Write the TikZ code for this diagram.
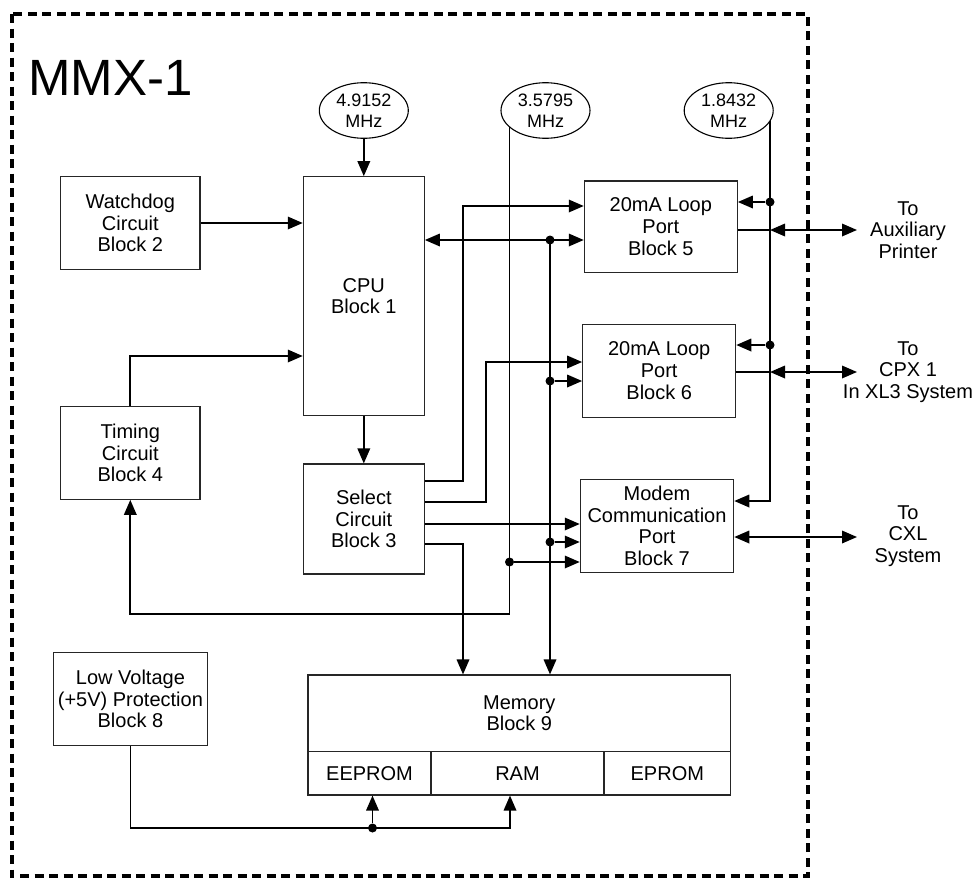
\documentclass[tikz,border=0pt]{standalone}
\usepackage{fontspec}
\setmainfont{Liberation Sans}
\usetikzlibrary{arrows.meta,shapes.geometric,backgrounds}
\begin{document}
\begin{tikzpicture}[x=1pt,y=-1pt,
  blk/.style={draw=black!85, line width=1.1pt, fill=white, inner sep=0pt, align=center, font=\fontsize{20}{21.7}\selectfont},
  osc/.style={ellipse, draw, line width=1.1pt, fill=white, inner sep=0pt, minimum width=89pt, minimum height=55.6pt, align=center, font=\fontsize{18}{21}\selectfont},
  wire/.style={line width=1.8pt},
  arr/.style={wire, -{Triangle[length=15pt,width=12.5pt]}},
  barr/.style={wire, {Triangle[length=15pt,width=12.5pt]}-{Triangle[length=15pt,width=12.5pt]}},
  dot/.style={circle, fill, inner sep=0pt, minimum size=9pt},
  lbl/.style={align=center, font=\fontsize{20}{21.7}\selectfont, inner sep=0pt}
]
\useasboundingbox (0,0) rectangle (974,878);
\draw[line width=3.6pt, dash pattern=on 9pt off 5.5pt] (12,14) rectangle (808,876);
\node[anchor=base west, inner sep=0pt, font=\fontsize{51}{51}\selectfont] (title) at (28,95) {MMX-1};

% oscillators
\node[osc] (o1) at (363.8,110.5) {4.9152\\MHz};
\node[osc] (o2) at (545.5,110.5) {3.5795\\MHz};
\node[osc] (o3) at (728.7,110.5) {1.8432\\MHz};

% blocks
\node[blk, minimum width=139.3pt, minimum height=92.6pt] (wd) at (130.3,223) {Watchdog\\Circuit\\Block 2};
\node[blk, minimum width=139.3pt, minimum height=92.6pt] (tm) at (130.3,453) {Timing\\Circuit\\Block 4};
\node[blk, minimum width=121pt, minimum height=239pt] (cpu) at (363.8,296.2) {CPU\\Block 1};
\node[blk, minimum width=121pt, minimum height=110pt] (sel) at (363.8,519) {Select\\Circuit\\Block 3};
\node[blk, minimum width=153pt, minimum height=91.7pt] (b5) at (660.8,226.8) {20mA Loop\\Port\\Block 5};
\node[blk, minimum width=153pt, minimum height=93pt] (b6) at (659.2,370.8) {20mA Loop\\Port\\Block 6};
\node[blk, minimum width=153.4pt, minimum height=93pt] (b7) at (657,525.8) {Modem\\Communication\\Port\\Block 7};
\node[blk, minimum width=153.8pt, minimum height=93.4pt] (lv) at (130.4,699) {Low Voltage\\(+5V) Protection\\Block 8};
\node[blk, minimum width=422.6pt, minimum height=76.7pt] (mem) at (519.3,713.35) {Memory\\Block 9};
\node[blk, minimum width=123pt, minimum height=43.3pt] (eeprom) at (369.5,773.35) {EEPROM};
\node[blk, minimum width=173pt, minimum height=43.3pt] (ram) at (517.5,773.35) {RAM};
\node[blk, minimum width=126.6pt, minimum height=43.3pt] (eprom) at (667.3,773.35) {EPROM};

% external labels
\node[lbl] (l5) at (908,230) {To\\Auxiliary\\Printer};
\node[lbl] (l6) at (908,372) {To\\CPX 1\\In XL3 System};
\node[lbl] (l7) at (908,536) {To\\CXL\\System};

% junction dots
\node[dot] (d1) at (550,240) {};
\node[dot] (d2) at (550,381) {};
\node[dot] (d3) at (550,542) {};
\node[dot] (d4) at (509.5,562) {};
\node[dot] (d5) at (770,202) {};
\node[dot] (d6) at (770,345) {};
\node[dot] (d7) at (372.5,828) {};

\coordinate (e5) at (770,230);
\coordinate (t5) at (857,230);
\coordinate (e6) at (770,372);
\coordinate (t6) at (857,372);
\coordinate (t7) at (857,537);

\begin{scope}[on background layer]
  \draw[arr] (o2.center -| d4) -- (d4 |- 0,614) -| (tm.south);
  \draw[arr] (o3.center -| d5) |- (b7.east |- 0,501);
\end{scope}

% CPU connections
\draw[arr] (o1) -- (cpu.north);
\draw[arr] (wd.east) -- (cpu.west |- wd.east);
\draw[arr] (tm.north) |- (cpu.west |- 0,356);
\draw[arr] (cpu.south) -- (sel.north);

% select outputs
\draw[arr] (sel.east |- 0,481) -| (463,206) -- (b5.west |- 0,206);
\draw[arr] (sel.east |- 0,502) -| (485.7,362) -- (b6.west |- 0,362);
\draw[arr] (sel.east |- 0,524) -- (b7.west |- 0,524);
\draw[arr] (sel.east |- 0,544) -| (mem.north -| 463,0);

% data bus
\draw[barr] (cpu.east |- d1) -- (b5.west |- d1);
\draw[arr] (d1.center) -- (mem.north -| d1);
\draw[arr] (d2) -- (b6.west |- d2);
\draw[arr] (d3) -- (b7.west |- d3);
\draw[arr] (d4) -- (b7.west |- d4);

% clock 3 taps
\draw[arr] (d5) -- (b5.east |- d5);
\draw[arr] (d6) -- (b6.east |- d6);

% external links
\draw[wire] (b5.east |- e5) -- (e5);
\draw[barr] (e5) -- (t5);
\draw[wire] (b6.east |- e6) -- (e6);
\draw[barr] (e6) -- (t6);
\draw[barr] (b7.east |- t7) -- (t7);

% low voltage protection
\draw[arr] (lv.south) |- (510,828) -- (ram.south -| 510,0);
\draw[arr] (d7) -- (eeprom.south -| d7);
\end{tikzpicture}
\end{document}
